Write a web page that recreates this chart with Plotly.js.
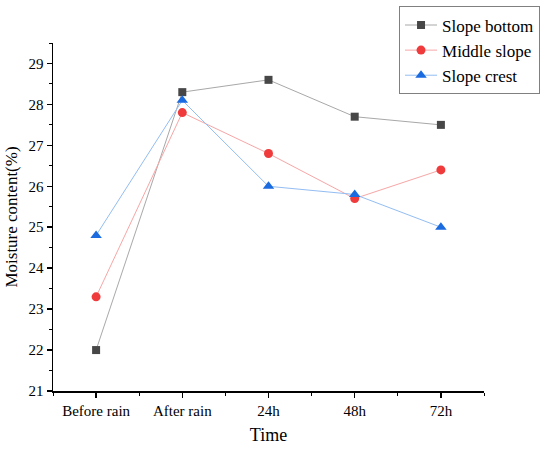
<!DOCTYPE html>
<html><head><meta charset="utf-8">
<script src="https://cdn.plot.ly/plotly-3.0.1.min.js"></script>
<style>html,body{margin:0;padding:0;background:#fff}#chart{width:550px;height:450px}</style>
</head><body><div id="chart"></div>
<script>
var categories = ["Before rain", "After rain", "24h", "48h", "72h"];
var slopeBottom = [22.0, 28.3, 28.6, 27.7, 27.5];
var middleSlope = [23.3, 27.8, 26.8, 25.7, 26.4];
var slopeCrest = [24.8, 28.1, 26.0, 25.8, 25.0];
var seriesNames = ["Slope bottom", "Middle slope", "Slope crest"];
var yTicks = [21, 22, 23, 24, 25, 26, 27, 28, 29];

var xIdx = categories.map(function(_, i){ return i; });
var font = "'Liberation Serif', 'Times New Roman', serif";

var traces = [
  {x: xIdx, y: slopeBottom, name: seriesNames[0], mode: "lines+markers",
   line: {color: "#a8a8a8", width: 1}, marker: {symbol: "square", size: 8, color: "#474747"}},
  {x: xIdx, y: middleSlope, name: seriesNames[1], mode: "lines+markers",
   line: {color: "#f7a6a6", width: 1}, marker: {symbol: "circle", size: 9, color: "#ef3b3b"}},
  {x: xIdx, y: slopeCrest, name: seriesNames[2], mode: "lines+markers",
   line: {color: "#93bdf2", width: 1}, marker: {symbol: "triangle-up", size: 10, color: "#1a6ae0"}}
];

var layout = {
  width: 550, height: 450,
  margin: {l: 53, r: 66, t: 43, b: 59, autoexpand: false},
  paper_bgcolor: "#fff", plot_bgcolor: "#fff",
  font: {family: font, color: "#000", size: 15},
  showlegend: true,
  legend: {x: 1.13, xanchor: "right", y: 1.105, yanchor: "top",
    bordercolor: "#808080", borderwidth: 1, bgcolor: "#fff",
    font: {family: font, size: 17, color: "#000"}, tracegroupgap: 0, itemwidth: 32},
  xaxis: {
    range: [-0.5, 4.5], tickmode: "array", tickvals: xIdx, ticktext: categories,
    showline: true, linecolor: "#000", linewidth: 1.5, mirror: false,
    showgrid: false, zeroline: false, automargin: false,
    ticks: "outside", ticklen: 5, tickwidth: 1.5, tickcolor: "#000",
    tickfont: {family: font, size: 15},
    minor: {tickmode: "array", tickvals: [-0.5, 0.5, 1.5, 2.5, 3.5, 4.5], ticks: "outside", ticklen: 3, tickwidth: 1, tickcolor: "#000", showgrid: false},
    title: {text: "Time", font: {family: font, size: 18}, standoff: 11}
  },
  yaxis: {
    range: [21, 29.5], tickmode: "array", tickvals: yTicks,
    showline: true, linecolor: "#000", linewidth: 1.5, mirror: false,
    showgrid: false, zeroline: false, automargin: false,
    ticks: "outside", ticklen: 5, tickwidth: 1.5, tickcolor: "#000",
    tickfont: {family: font, size: 15},
    minor: {dtick: 0.5, ticks: "outside", ticklen: 3, tickwidth: 1, tickcolor: "#000", showgrid: false},
    title: {text: "Moisture content(%)", font: {family: font, size: 17}, standoff: 6}
  }
};

Plotly.newPlot("chart", traces, layout, {displayModeBar: false, staticPlot: true});
</script></body></html>
